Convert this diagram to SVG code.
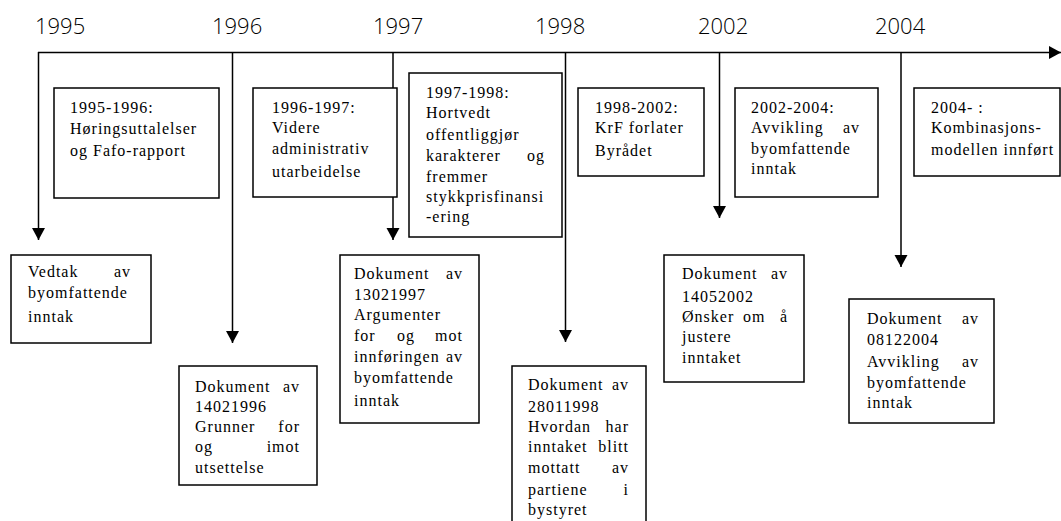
<svg xmlns="http://www.w3.org/2000/svg" width="1061" height="521" viewBox="0 0 1061 521">
<style>
.yr{font-family:"Open Sans","Liberation Sans",Arial,sans-serif;font-weight:300;font-size:22px;fill:#000}
.t{font-family:"Liberation Serif","Times New Roman",serif;font-size:16px;letter-spacing:1px;fill:#000}
.e{text-anchor:end}
.box{fill:#fff;stroke:#000;stroke-width:1.5}
.ln{stroke:#000;stroke-width:1.5;fill:none}
</style>
<defs>
<marker id="ah" markerUnits="userSpaceOnUse" markerWidth="13" markerHeight="14" refX="12" refY="6.5" orient="auto">
<path d="M0,0 L12,6.5 L0,13 Z" fill="#000"/>
</marker>
</defs>
<rect width="1061" height="521" fill="#fff"/>
<g id="years">
<text class="yr" x="35" y="34">1995</text>
<text class="yr" x="212" y="34">1996</text>
<text class="yr" x="373" y="34">1997</text>
<text class="yr" x="535" y="34">1998</text>
<text class="yr" x="698" y="34">2002</text>
<text class="yr" x="875" y="34">2004</text>
</g>
<g id="connectors">
<line class="ln" x1="38" y1="52.5" x2="1061" y2="52.5" marker-end="url(#ah)"/>
<line class="ln" x1="38.5" y1="52" x2="38.5" y2="240" marker-end="url(#ah)"/>
<line class="ln" x1="232.5" y1="52" x2="232.5" y2="343" marker-end="url(#ah)"/>
<line class="ln" x1="393" y1="52" x2="393" y2="240" marker-end="url(#ah)"/>
<line class="ln" x1="565.5" y1="52" x2="565.5" y2="342" marker-end="url(#ah)"/>
<line class="ln" x1="719.5" y1="52" x2="719.5" y2="218" marker-end="url(#ah)"/>
<line class="ln" x1="901" y1="52" x2="901" y2="267" marker-end="url(#ah)"/>
</g>
<g id="p1995-1996">
<rect class="box" x="54" y="88" width="165" height="110"/>
<text class="t" x="70" y="113">1995-1996:</text>
<text class="t" x="70" y="134">Høringsuttalelser</text>
<text class="t" x="70" y="156">og Fafo-rapport</text>
</g>
<g id="p1996-1997">
<rect class="box" x="253" y="88" width="144" height="109"/>
<text class="t" x="272" y="113">1996-1997:</text>
<text class="t" x="272" y="133">Videre</text>
<text class="t" x="272" y="154">administrativ</text>
<text class="t" x="272" y="177">utarbeidelse</text>
</g>
<g id="p1997-1998">
<rect class="box" x="409" y="73" width="153" height="164"/>
<text class="t" x="426" y="98">1997-1998:</text>
<text class="t" x="426" y="118">Hortvedt</text>
<text class="t" x="426" y="140">offentliggjør</text>
<text class="t" x="426" y="161">karakterer</text>
<text class="t e" x="545" y="161">og</text>
<text class="t" x="426" y="182">fremmer</text>
<text class="t" x="426" y="202">stykkprisfinansi</text>
<text class="t" x="426" y="222">-ering</text>
</g>
<g id="p1998-2002">
<rect class="box" x="578" y="88" width="126" height="88"/>
<text class="t" x="595" y="113">1998-2002:</text>
<text class="t" x="595" y="133">KrF forlater</text>
<text class="t" x="595" y="156">Byrådet</text>
</g>
<g id="p2002-2004">
<rect class="box" x="735" y="88" width="143" height="109"/>
<text class="t" x="751" y="113">2002-2004:</text>
<text class="t" x="751" y="133">Avvikling</text>
<text class="t e" x="860" y="133">av</text>
<text class="t" x="751" y="154">byomfattende</text>
<text class="t" x="751" y="174">inntak</text>
</g>
<g id="p2004">
<rect class="box" x="914" y="88" width="146" height="88"/>
<text class="t" x="931" y="113">2004- :</text>
<text class="t" x="931" y="133">Kombinasjons-</text>
<text class="t" x="931" y="155">modellen innført</text>
</g>
<g id="d1995">
<rect class="box" x="11" y="255" width="140" height="88"/>
<text class="t" x="28" y="277">Vedtak</text>
<text class="t e" x="131" y="277">av</text>
<text class="t" x="28" y="298">byomfattende</text>
<text class="t" x="28" y="322">inntak</text>
</g>
<g id="d1996">
<rect class="box" x="179" y="366" width="138" height="119"/>
<text class="t" x="195" y="392">Dokument</text>
<text class="t e" x="300" y="392">av</text>
<text class="t" x="195" y="412">14021996</text>
<text class="t" x="195" y="432">Grunner</text>
<text class="t e" x="300" y="432">for</text>
<text class="t" x="195" y="452">og</text>
<text class="t e" x="300" y="452">imot</text>
<text class="t" x="195" y="473">utsettelse</text>
</g>
<g id="d1997">
<rect class="box" x="340" y="255" width="139" height="168"/>
<text class="t" x="354" y="279">Dokument</text>
<text class="t e" x="463" y="279">av</text>
<text class="t" x="354" y="300">13021997</text>
<text class="t" x="354" y="320">Argumenter</text>
<text class="t" x="354" y="341">for</text>
<text class="t" x="397" y="341">og</text>
<text class="t e" x="463" y="341">mot</text>
<text class="t" x="354" y="362">innføringen</text>
<text class="t e" x="463" y="362">av</text>
<text class="t" x="354" y="383">byomfattende</text>
<text class="t" x="354" y="406">inntak</text>
</g>
<g id="d1998">
<rect class="box" x="512" y="366" width="134" height="170"/>
<text class="t" x="528" y="390">Dokument</text>
<text class="t e" x="629" y="390">av</text>
<text class="t" x="528" y="412">28011998</text>
<text class="t" x="528" y="432">Hvordan</text>
<text class="t e" x="629" y="432">har</text>
<text class="t" x="528" y="452">inntaket</text>
<text class="t e" x="629" y="452">blitt</text>
<text class="t" x="528" y="473">mottatt</text>
<text class="t e" x="629" y="473">av</text>
<text class="t" x="528" y="495">partiene</text>
<text class="t e" x="629" y="495">i</text>
<text class="t" x="528" y="515">bystyret</text>
</g>
<g id="d2002">
<rect class="box" x="664" y="255" width="140" height="127"/>
<text class="t" x="682" y="279">Dokument</text>
<text class="t e" x="788" y="279">av</text>
<text class="t" x="682" y="302">14052002</text>
<text class="t" x="682" y="322">Ønsker</text>
<text class="t" x="743" y="322">om</text>
<text class="t e" x="788" y="322">å</text>
<text class="t" x="682" y="342">justere</text>
<text class="t" x="682" y="363">inntaket</text>
</g>
<g id="d2004">
<rect class="box" x="849" y="299" width="145" height="124"/>
<text class="t" x="867" y="324">Dokument</text>
<text class="t e" x="979" y="324">av</text>
<text class="t" x="867" y="345">08122004</text>
<text class="t" x="867" y="367">Avvikling</text>
<text class="t e" x="979" y="367">av</text>
<text class="t" x="867" y="388">byomfattende</text>
<text class="t" x="867" y="408">inntak</text>
</g>
</svg>
